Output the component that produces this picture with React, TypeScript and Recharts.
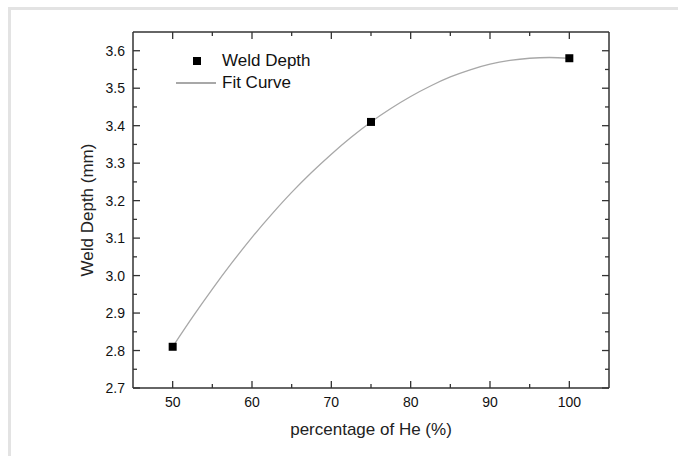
import { ComposedChart, Line, Scatter, XAxis, YAxis } from "recharts"

// measured weld depth at each helium share
const heShare = [50, 75, 100]
const weldDepth = [2.81, 3.41, 3.58]

// fit curve
const fitShare = [50, 52.5, 55, 57.5, 60, 62.5, 65, 67.5, 70, 72.5, 75, 77.5, 80, 82.5, 85, 87.5, 90, 92.5, 95, 97.5, 100]
const fitDepth = [2.81, 2.889, 2.964, 3.035, 3.102, 3.164, 3.222, 3.275, 3.324, 3.369, 3.41, 3.446, 3.478, 3.506, 3.53, 3.549, 3.564, 3.574, 3.58, 3.582, 3.58]

const xTicks = [50, 55, 60, 65, 70, 75, 80, 85, 90, 95, 100]
const yTicks = [2.7, 2.75, 2.8, 2.85, 2.9, 2.95, 3.0, 3.05, 3.1, 3.15, 3.2, 3.25, 3.3, 3.35, 3.4, 3.45, 3.5, 3.55, 3.6]

const points = heShare.map((x, i) => ({ x, y: weldDepth[i] }))
const fit = fitShare.map((x, i) => ({ x, y: fitDepth[i] }))

const FONT = "'Liberation Sans', Arial, sans-serif"
const AXIS = "#333"

const isMajorX = (v: number) => v % 10 === 0
const isMajorY = (v: number) => Math.round(v * 100) % 10 === 0

function BottomTick({ x, y, payload }: any) {
  const major = isMajorX(payload.value)
  return (
    <g>
      <line x1={x} x2={x} y1={y} y2={y - (major ? 7 : 4)} stroke={AXIS} strokeWidth={1.3} />
      {major && (
        <text x={x} y={y + 19} textAnchor="middle" fontSize={14} fill="#111" fontFamily={FONT}>
          {payload.value}
        </text>
      )}
    </g>
  )
}

function TopTick({ x, y, payload }: any) {
  const major = isMajorX(payload.value)
  return <line x1={x} x2={x} y1={y} y2={y + (major ? 7 : 4)} stroke={AXIS} strokeWidth={1.3} />
}

function LeftTick({ x, y, payload }: any) {
  const major = isMajorY(payload.value)
  return (
    <g>
      <line x1={x} x2={x + (major ? 7 : 4)} y1={y} y2={y} stroke={AXIS} strokeWidth={1.3} />
      {major && (
        <text x={x - 8} y={y + 5} textAnchor="end" fontSize={14} fill="#111" fontFamily={FONT}>
          {payload.value.toFixed(1)}
        </text>
      )}
    </g>
  )
}

function RightTick({ x, y, payload }: any) {
  const major = isMajorY(payload.value)
  return <line x1={x} x2={x - (major ? 7 : 4)} y1={y} y2={y} stroke={AXIS} strokeWidth={1.3} />
}

function Square({ cx, cy }: any) {
  return <rect x={cx - 4} y={cy - 4} width={8} height={8} fill="#000" />
}

export default function App() {
  return (
    <div style={{ position: "absolute", left: 0, top: 0, width: 678, height: 456, background: "#fff", fontFamily: FONT }}>
      <div
        style={{
          position: "absolute",
          left: 8,
          top: 7,
          right: 0,
          bottom: 0,
          borderTop: "3px solid #e3e3e3",
          borderLeft: "3px solid #e3e3e3"
        }}
      />

      <ComposedChart
        width={678}
        height={456}
        margin={{ top: 31, right: 68, left: 73, bottom: 38 }}
        style={{ position: "absolute", left: 0, top: 0 }}
      >
        <XAxis
          xAxisId="b"
          dataKey="x"
          type="number"
          domain={[45, 105]}
          ticks={xTicks}
          interval={0}
          height={30}
          tickSize={0}
          tickMargin={0}
          tickLine={false}
          tick={<BottomTick />}
          axisLine={{ stroke: AXIS, strokeWidth: 1.5 }}
          allowDataOverflow
          label={{
            value: "percentage of He (%)",
            position: "bottom",
            offset: 5,
            style: { fontSize: 17, fill: "#222", fontFamily: FONT }
          }}
        />
        <XAxis
          xAxisId="t"
          orientation="top"
          dataKey="x"
          type="number"
          domain={[45, 105]}
          ticks={xTicks}
          interval={0}
          height={1}
          tickSize={0}
          tickMargin={0}
          tickLine={false}
          tick={<TopTick />}
          axisLine={{ stroke: AXIS, strokeWidth: 1.5 }}
          allowDataOverflow
        />
        <YAxis
          yAxisId="l"
          type="number"
          domain={[2.7, 3.65]}
          ticks={yTicks}
          interval={0}
          width={60}
          tickSize={0}
          tickMargin={0}
          tickLine={false}
          tick={<LeftTick />}
          axisLine={{ stroke: AXIS, strokeWidth: 1.5 }}
          allowDataOverflow
          label={{
            value: "Weld Depth (mm)",
            angle: -90,
            position: "insideLeft",
            offset: 14,
            style: { textAnchor: "middle", fontSize: 17, fill: "#222", fontFamily: FONT }
          }}
        />
        <YAxis
          yAxisId="r"
          orientation="right"
          type="number"
          domain={[2.7, 3.65]}
          ticks={yTicks}
          interval={0}
          width={1}
          tickSize={0}
          tickMargin={0}
          tickLine={false}
          tick={<RightTick />}
          axisLine={{ stroke: AXIS, strokeWidth: 1.5 }}
          allowDataOverflow
        />

        <Line
          xAxisId="b"
          yAxisId="l"
          data={fit}
          dataKey="y"
          type="monotone"
          stroke="#a8a8a8"
          strokeWidth={1.3}
          dot={false}
          activeDot={false}
          isAnimationActive={false}
        />
        <Scatter
          xAxisId="b"
          yAxisId="l"
          data={points}
          dataKey="y"
          shape={<Square />}
          isAnimationActive={false}
        />
      </ComposedChart>

      {/* legend */}
      <div style={{ position: "absolute", left: 176, top: 50, fontSize: 17, color: "#111", lineHeight: "22px" }}>
        <div style={{ display: "flex", alignItems: "center", height: 22 }}>
          <span style={{ width: 40, display: "flex", justifyContent: "center" }}>
            <span style={{ width: 8, height: 8, background: "#000", marginLeft: 2 }} />
          </span>
          <span style={{ marginLeft: 6 }}>Weld Depth</span>
        </div>
        <div style={{ display: "flex", alignItems: "center", height: 22 }}>
          <span style={{ width: 40, height: 1.3, background: "#a8a8a8" }} />
          <span style={{ marginLeft: 6 }}>Fit Curve</span>
        </div>
      </div>
    </div>
  )
}
